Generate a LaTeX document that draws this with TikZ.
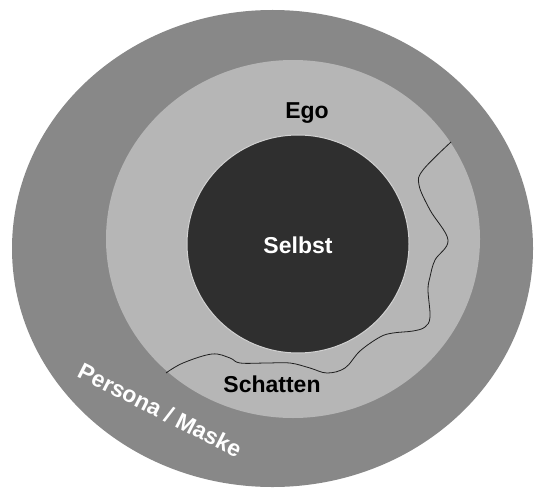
\documentclass[tikz,border=0pt]{standalone}
\usepackage{fontspec}
\setmainfont{Liberation Sans}
\usetikzlibrary{shapes.geometric}
\definecolor{PersonaGray}{HTML}{888888}
\definecolor{EgoGray}{HTML}{B6B6B6}
\definecolor{SelfDark}{HTML}{2F2F2F}
\definecolor{RimGray}{HTML}{D2D2D2}
\definecolor{LineDark}{HTML}{1E1E1E}

\begin{document}
\begin{tikzpicture}[
    x=1pt, y=1pt,
    layer/.style={
        ellipse, inner sep=0pt, outer sep=0pt
    },
    lbl/.style={
        font=\fontsize{23}{27}\selectfont\bfseries, inner sep=0pt
    }
]
\useasboundingbox (0,0) rectangle (534,488);

% === Rings, outside to inside ===
\node[layer, fill=PersonaGray, minimum width=521pt, minimum height=477pt] (persona) at (272.5,239.5) {};
\node[layer, fill=EgoGray, minimum width=374pt, minimum height=358pt] (ego) at (293,249) {};
\node[layer, fill=SelfDark, draw=RimGray, line width=1pt,
      minimum width=222pt, minimum height=218pt] (selbst) at (298,244) {};

% === Shadow boundary ===
\coordinate (shadowL) at (166,115);
\coordinate (shadowR) at (451,346);
\draw[LineDark, line width=0.8pt] plot[smooth, tension=0.6] coordinates {
    (shadowL) (183,125) (212,134) (230,130) (240,125) (267,125) (290,125)
    (310,120) (327,115) (345,120) (360,137) (380,151) (393,155) (413,157)
    (425,161) (430,171) (428,198) (430,211) (435,228) (448,248) (430,278)
    (419,303) (423,318) (shadowR)};

% === Labels ===
\node[lbl] (egoText) at (307,375) {Ego};
\node[lbl, text=white] (selbstText) at (298,243) {Selbst};
\node[lbl] (schattenText) at (272,104) {Schatten};
\node[lbl, text=white, rotate=-27] (personaText) at (160,78) {Persona / Maske};

\end{tikzpicture}
\end{document}
